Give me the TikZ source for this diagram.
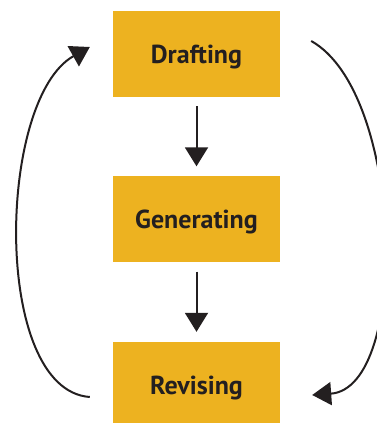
\documentclass[tikz,border=0pt]{standalone}
\usepackage{fontspec}
\setmainfont{PT Sans}
\usepackage{tikz}
\usetikzlibrary{arrows.meta}
\usetikzlibrary{calc}
\definecolor{stepgold}{HTML}{EDB220}
\definecolor{inkdark}{HTML}{231F20}
\tikzset{
	stage/.style={fill=stepgold,minimum width=167pt,minimum height=86pt,inner sep=0pt,text depth=0pt,font=\fontsize{26}{30}\selectfont\bfseries,text=inkdark},
	flow/.style={draw=inkdark,line width=2pt,-{Triangle[length=19pt,width=23pt]}}
}
\begin{document}
\begin{tikzpicture}[x=1pt,y=1pt]
	\useasboundingbox (0,0) rectangle (376,423);
\node[stage] (draft) at (196.5,369) {Drafting};
\node[stage] (gen) at (196.5,203.5) {Generating};
\node[stage] (rev) at (196.5,38) {Revising};
	\draw[flow,shorten <=9pt,shorten >=10pt] (draft.south) -- (gen.north);
	\draw[flow,shorten <=9pt,shorten >=10pt] (gen.south) -- (rev.north);
	% loop back and forward
	\draw[flow] ($(rev.west)+(-23,-12)$) .. controls +(-98,7) and +(-93,-52) .. ($(draft.west)+(-23,7)$);
	\draw[flow] ($(draft.east)+(31,13)$) .. controls +(93,-52) and +(98,7) .. ($(rev.east)+(32,-10)$);
\end{tikzpicture}
\end{document}
